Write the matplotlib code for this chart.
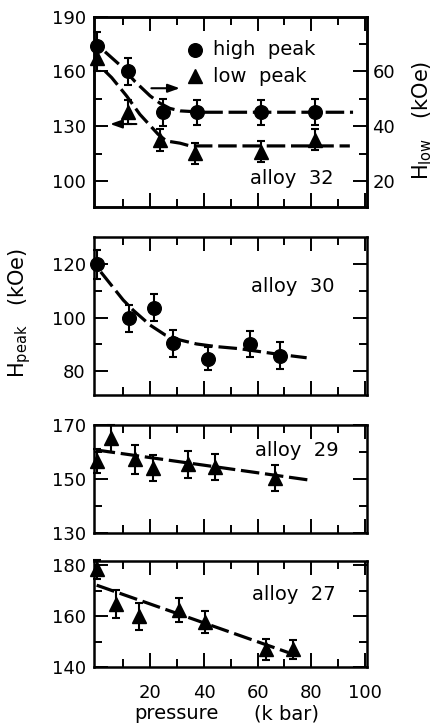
import matplotlib
matplotlib.use('Agg')
import matplotlib.pyplot as plt
from matplotlib.ticker import FixedLocator

plt.rcParams['font.family'] = ['DejaVu Sans']
plt.rcParams['mathtext.fontset'] = 'dejavusans'

# ---------------- data (pressure in kbar, fields in kOe) ----------------
# alloy 32 : high peak (right axis, H_low scale) and low peak (left axis)
p32_high = [0, 11.8, 24.8, 37.3, 61.3, 81.4]
h32_high = [69.4, 60.0, 45.1, 45.1, 45.1, 45.1]
e32_high = [4.9, 4.9, 5.0, 4.6, 4.6, 4.7]
p32_low = [0, 11.8, 23.6, 36.7, 61.3, 81.4]
h32_low = [167.2, 137.6, 122.5, 115.2, 116.1, 122.5]
e32_low = [7.0, 6.5, 6.2, 5.8, 5.8, 5.8]
fit32_high_p = [3.1, 8.7, 14.3, 19.9, 23.6, 27.3, 31.1, 40.0, 95.6]
fit32_high_v = [67.2, 62.3, 56.3, 51.1, 48.4, 46.5, 45.6, 45.1, 45.1]
fit32_low_p = [3.1, 5.6, 11.2, 16.1, 22.9, 26.0, 31.1, 34.8, 94.4]
fit32_low_v = [160.2, 156.6, 146.5, 136.5, 125.6, 121.9, 120.7, 119.2, 119.2]

# alloy 30 : high peak
p30 = [0, 12.2, 21.4, 28.3, 41.4, 57.2, 68.3]
h30 = [120.0, 99.7, 103.8, 90.3, 84.6, 90.1, 85.7]
e30 = [5.5, 5.0, 5.0, 5.0, 4.4, 5.0, 5.0]
fit30_p = [1.5, 9.9, 13.6, 19.9, 25.5, 31.0, 37.2, 44.6, 53.4, 67.1, 78.3]
fit30_v = [117.2, 106.6, 102.8, 97.2, 93.5, 91.6, 90.1, 89.1, 88.3, 86.3, 84.9]

# alloy 29 : low peak
p29 = [0, 5.2, 14.3, 21.1, 34.2, 44.1, 66.5]
h29 = [156.6, 165.0, 157.2, 154.1, 155.4, 154.5, 150.4]
e29 = [4.6, 5.1, 5.3, 4.8, 5.0, 4.8, 4.8]
fit29_p = [0, 78.9]
fit29_v = [160.7, 149.6]

# alloy 27 : low peak
p27 = [0, 7.2, 15.9, 30.8, 40.4, 63.1, 73.1]
h27 = [178.4, 165.0, 160.0, 162.4, 157.8, 147.0, 147.0]
e27 = [3.8, 5.5, 5.4, 4.7, 4.4, 4.0, 3.8]
fit27_p = [0, 71.4]
fit27_v = [172.2, 145.8]

x_major = [20, 40, 60, 80, 100]
x_minor = [10, 30, 50, 70, 90]
x_ticklabels = ['20', '40', '60', '80', '100']

# ---------------- figure ----------------
W, H = 433, 725
fig = plt.figure(figsize=(W / 100, H / 100), dpi=100)
XL, XR = 94, 367
XLIM = (-1.0, 100.8)

DASH = (0, (5.8, 1.8))
FIT_LW = 2.3
MS = 9.8
EB = dict(color='black', ecolor='black', elinewidth=1.5, capsize=3,
          capthick=1.5, linestyle='none', clip_on=False, zorder=4)


def make_ax(top, bottom, ylim, ymaj, ymin):
    ax = fig.add_axes([XL / W, 1 - bottom / H, (XR - XL) / W, (bottom - top) / H])
    ax.set_xlim(*XLIM)
    ax.set_ylim(*ylim)
    for s in ax.spines.values():
        s.set_linewidth(1.8)
    ax.xaxis.set_major_locator(FixedLocator(x_major))
    ax.xaxis.set_minor_locator(FixedLocator(x_minor))
    ax.yaxis.set_major_locator(FixedLocator(ymaj))
    ax.yaxis.set_minor_locator(FixedLocator(ymin))
    ax.tick_params(which='both', direction='in', top=True, bottom=True,
                   left=True, right=True, width=1.4, labelsize=13,
                   labelbottom=False)
    ax.tick_params(which='major', length=10)
    ax.tick_params(which='minor', length=6)
    ax.tick_params(axis='y', pad=6)
    return ax


# ---- panel 1 : alloy 32 ----
ax1 = make_ax(16.7, 206.7, (85.9, 190), [100, 130, 160, 190], [115, 145, 175])
ax1r = ax1.twinx()
ax1r.set_ylim(10.6, 80)
ax1r.yaxis.set_major_locator(FixedLocator([20, 40, 60]))
ax1r.yaxis.set_minor_locator(FixedLocator([30, 50, 70]))
ax1r.tick_params(which='both', direction='in', right=True, left=False,
                 width=1.4, labelsize=13, pad=4)
ax1r.tick_params(which='major', length=10)
ax1r.tick_params(which='minor', length=6)
ax1.tick_params(axis='y', which='both', left=True, right=False)
for s in ax1r.spines.values():
    s.set_linewidth(1.8)

ax1r.plot(fit32_high_p, fit32_high_v, color='black', lw=FIT_LW, linestyle=DASH, zorder=2)
ax1.plot(fit32_low_p, fit32_low_v, color='black', lw=FIT_LW, linestyle=DASH, zorder=2)
ax1r.errorbar(p32_high, h32_high, yerr=e32_high, marker='o', ms=MS, **EB)
ax1.errorbar(p32_low, h32_low, yerr=e32_low, marker='^', ms=MS, **EB)

arrow = dict(arrowstyle='-|>,head_length=0.7,head_width=0.25', lw=1.5,
             color='black', shrinkA=0, shrinkB=0)
ax1.annotate('', xy=(31.0, 150.8), xytext=(20.4, 150.8), arrowprops=arrow)
ax1.annotate('', xy=(5.0, 131.2), xytext=(14.8, 131.2), arrowprops=arrow)

ax1.plot([36.7], [171.8], marker='o', ms=MS, color='black', linestyle='none')
ax1.plot([36.7], [157.5], marker='^', ms=MS, color='black', linestyle='none')
ax1.text(43.5, 171.8, 'high  peak', fontsize=14, va='center', ha='left')
ax1.text(43.5, 157.5, 'low  peak', fontsize=14, va='center', ha='left')
ax1.text(57.2, 101.1, 'alloy  32', fontsize=14, va='center', ha='left')

# ---- panel 2 : alloy 30 ----
ax2 = make_ax(237.3, 395.0, (70.9, 130.2), [80, 100, 120], [90, 110])
ax2.plot(fit30_p, fit30_v, color='black', lw=FIT_LW, linestyle=DASH, zorder=2)
ax2.errorbar(p30, h30, yerr=e30, marker='o', ms=MS, **EB)
ax2.text(57.4, 111.6, 'alloy  30', fontsize=14, va='center', ha='left')

# ---- panel 3 : alloy 29 ----
ax3 = make_ax(425.0, 532.7, (130, 170), [130, 150, 170], [140, 160])
ax3.plot(fit29_p, fit29_v, color='black', lw=FIT_LW, linestyle=DASH, zorder=2)
ax3.errorbar(p29, h29, yerr=e29, marker='^', ms=MS, **EB)
ax3.text(59.0, 160.7, 'alloy  29', fontsize=14, va='center', ha='left')

# ---- panel 4 : alloy 27 ----
ax4 = make_ax(560.7, 667.3, (140, 181.8), [140, 160, 180], [150, 170])
ax4.plot(fit27_p, fit27_v, color='black', lw=FIT_LW, linestyle=DASH, zorder=2)
ax4.errorbar(p27, h27, yerr=e27, marker='^', ms=MS, **EB)
ax4.text(57.8, 168.4, 'alloy  27', fontsize=14, va='center', ha='left')
ax4.tick_params(axis='x', labelbottom=True, pad=12)
ax4.set_xticklabels(x_ticklabels)

# ---- axis titles ----
fig.text(20 / W, 1 - 313 / H, r'$\mathregular{H_{peak}}$   (kOe)', rotation=90,
         ha='center', va='center', fontsize=15)
fig.text(422 / W, 1 - 120 / H, r'$\mathregular{H_{low}}$   (kOe)', rotation=90,
         ha='center', va='center', fontsize=15)
fig.text(176.5 / W, 1 - 719 / H, 'pressure', ha='center', va='baseline', fontsize=14)
fig.text(286.5 / W, 1 - 719 / H, '(k bar)', ha='center', va='baseline', fontsize=14)

fig.savefig('out.png', dpi=100)
